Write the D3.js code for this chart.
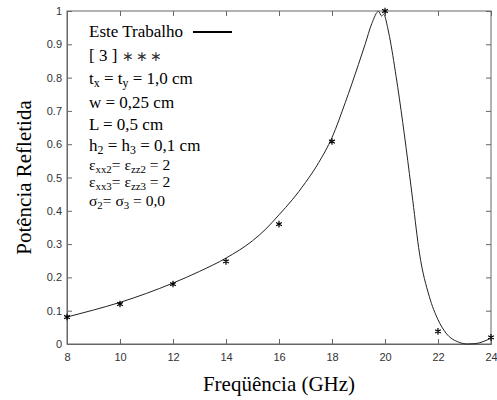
<!DOCTYPE html>
<html>
<head>
<meta charset="utf-8">
<script src="https://cdn.jsdelivr.net/npm/d3@7.9.0/dist/d3.min.js"></script>
<style>
  body { margin: 0; background: #fff; }
  svg { display: block; }
  .tick text { font-family: "Liberation Sans", Arial, sans-serif; font-size: 11px; fill: #333; }
</style>
</head>
<body>
<div id="chart"></div>
<script>
// curve "Este Trabalho" (frequency GHz, reflected power)
const curveFreq = [8, 9, 10, 11, 12, 13, 14, 15, 15.5, 16, 16.5, 17, 17.5, 18, 18.5, 19, 19.25, 19.5, 19.76, 19.87, 19.95, 20.1, 20.17, 20.42, 20.67, 20.92, 21.05, 21.3, 21.67, 22, 22.3, 22.8, 23.1, 23.4, 23.7, 24];
const curvePower = [0.081, 0.102, 0.125, 0.152, 0.183, 0.218, 0.258, 0.31, 0.345, 0.388, 0.433, 0.485, 0.545, 0.62, 0.725, 0.84, 0.9, 0.962, 0.999, 0.985, 0.99, 0.95, 0.923, 0.803, 0.665, 0.512, 0.43, 0.273, 0.143, 0.073, 0.033, 0.005, 0.0, 0.001, 0.007, 0.018];

// reference [3] points
const refFreq = [8, 10, 12, 14, 16, 18, 20, 22, 24];
const refPower = [0.081, 0.12, 0.18, 0.248, 0.36, 0.608, 1.0, 0.038, 0.02];

const xTicks = [8, 10, 12, 14, 16, 18, 20, 22, 24];
const yTicks = [0, 0.1, 0.2, 0.3, 0.4, 0.5, 0.6, 0.7, 0.8, 0.9, 1];

const width = 497;
const height = 400;
const margin = { top: 11, right: 6, bottom: 56, left: 67 };
const serif = '"Liberation Serif", "Times New Roman", serif';

const svg = d3.select('#chart')
  .append('svg')
  .attr('width', width)
  .attr('height', height);

const xScale = d3.scaleLinear()
  .domain([8, 24])
  .range([margin.left, width - margin.right]);

const yScale = d3.scaleLinear()
  .domain([0, 1])
  .range([height - margin.bottom, margin.top]);

const axisColor = '#666';

// box
svg.append('rect')
  .attr('x', xScale(8))
  .attr('y', yScale(1))
  .attr('width', xScale(24) - xScale(8))
  .attr('height', yScale(0) - yScale(1))
  .attr('fill', 'none')
  .attr('stroke', axisColor);

// axes, ticks pointing inward
const xAxis = d3.axisBottom(xScale).tickValues(xTicks).tickSize(-5).tickPadding(9).tickFormat(d3.format('d'));
const yAxis = d3.axisLeft(yScale).tickValues(yTicks).tickSize(-5).tickPadding(5).tickFormat((d) => d === 0 || d === 1 ? String(d) : d3.format('.1f')(d));

svg.append('g')
  .attr('transform', `translate(0, ${yScale(0)})`)
  .call(xAxis)
  .call((g) => g.select('.domain').attr('stroke', axisColor))
  .call((g) => g.selectAll('.tick line').attr('stroke', axisColor));

svg.append('g')
  .attr('transform', `translate(${xScale(8)}, 0)`)
  .call(yAxis)
  .call((g) => g.select('.domain').attr('stroke', axisColor))
  .call((g) => g.selectAll('.tick line').attr('stroke', axisColor));

// top and right ticks
svg.append('g')
  .attr('transform', `translate(0, ${yScale(1)})`)
  .call(d3.axisTop(xScale).tickValues(xTicks).tickSize(-5).tickFormat(''))
  .call((g) => g.select('.domain').remove())
  .call((g) => g.selectAll('.tick line').attr('stroke', axisColor));

svg.append('g')
  .attr('transform', `translate(${xScale(24)}, 0)`)
  .call(d3.axisRight(yScale).tickValues(yTicks).tickSize(-5).tickFormat(''))
  .call((g) => g.select('.domain').remove())
  .call((g) => g.selectAll('.tick line').attr('stroke', axisColor));

// curve
const curveData = curveFreq.map((f, i) => ({ f, p: curvePower[i] }));
const line = d3.line()
  .x((d) => xScale(d.f))
  .y((d) => yScale(d.p))
  .curve(d3.curveMonotoneX);

svg.append('path')
  .datum(curveData)
  .attr('d', line)
  .attr('fill', 'none')
  .attr('stroke', '#222')
  .attr('stroke-width', 1);

// reference markers
const refData = refFreq.map((f, i) => ({ f, p: refPower[i] }));
const star = d3.symbol().type(d3.symbolAsterisk).size(30);
svg.append('g')
  .selectAll('path')
  .data(refData)
  .join('path')
  .attr('transform', (d) => `translate(${xScale(d.f)}, ${yScale(d.p)})`)
  .attr('d', star)
  .attr('fill', 'none')
  .attr('stroke', '#000')
  .attr('stroke-width', 1.2);

// axis labels
svg.append('text')
  .attr('x', (xScale(8) + xScale(24)) / 2)
  .attr('y', 391)
  .attr('text-anchor', 'middle')
  .attr('font-family', serif)
  .attr('font-size', 21)
  .text('Freqüência (GHz)');

svg.append('text')
  .attr('transform', `translate(31, ${(yScale(0) + yScale(1)) / 2}) rotate(-90)`)
  .attr('text-anchor', 'middle')
  .attr('font-family', serif)
  .attr('font-size', 21)
  .text('Potência Refletida');

// annotation block
const notes = svg.append('g').attr('font-family', serif).attr('fill', '#000');
const nx = 89;

// parts: [text, isSubscript]
function addLine(y, size, parts) {
  const t = notes.append('text').attr('x', nx).attr('y', y).attr('font-size', size);
  let shifted = false;
  parts.forEach(([s, sub]) => {
    const ts = t.append('tspan').text(s);
    if (sub) {
      ts.attr('font-size', size * 0.7).attr('dy', shifted ? 0 : 3);
      shifted = true;
    } else {
      if (shifted) ts.attr('dy', -3);
      shifted = false;
    }
  });
  return t;
}

addLine(37, 17, [['Este Trabalho']]);
notes.append('line')
  .attr('x1', 193).attr('x2', 232)
  .attr('y1', 32).attr('y2', 32)
  .attr('stroke', '#000').attr('stroke-width', 2);
addLine(61, 17, [['[ 3 ] ']]).append('tspan')
  .attr('font-size', 14).attr('letter-spacing', 2).attr('fill', '#333').text('∗∗∗');
addLine(84, 17, [['t'], ['x', true], [' = t'], ['y', true], [' = 1,0 cm']]);
addLine(108, 17, [['w = 0,25 cm']]);
addLine(130, 17, [['L = 0,5 cm']]);
addLine(151, 17, [['h'], ['2', true], [' = h'], ['3', true], [' = 0,1 cm']]);
addLine(170, 15.5, [['ε'], ['xx2', true], ['= ε'], ['zz2', true], [' = 2']]);
addLine(187, 15.5, [['ε'], ['xx3', true], ['= ε'], ['zz3', true], [' = 2']]);
addLine(206, 15.5, [['σ'], ['2', true], ['= σ'], ['3', true], [' = 0,0']]);
</script>
</body>
</html>
